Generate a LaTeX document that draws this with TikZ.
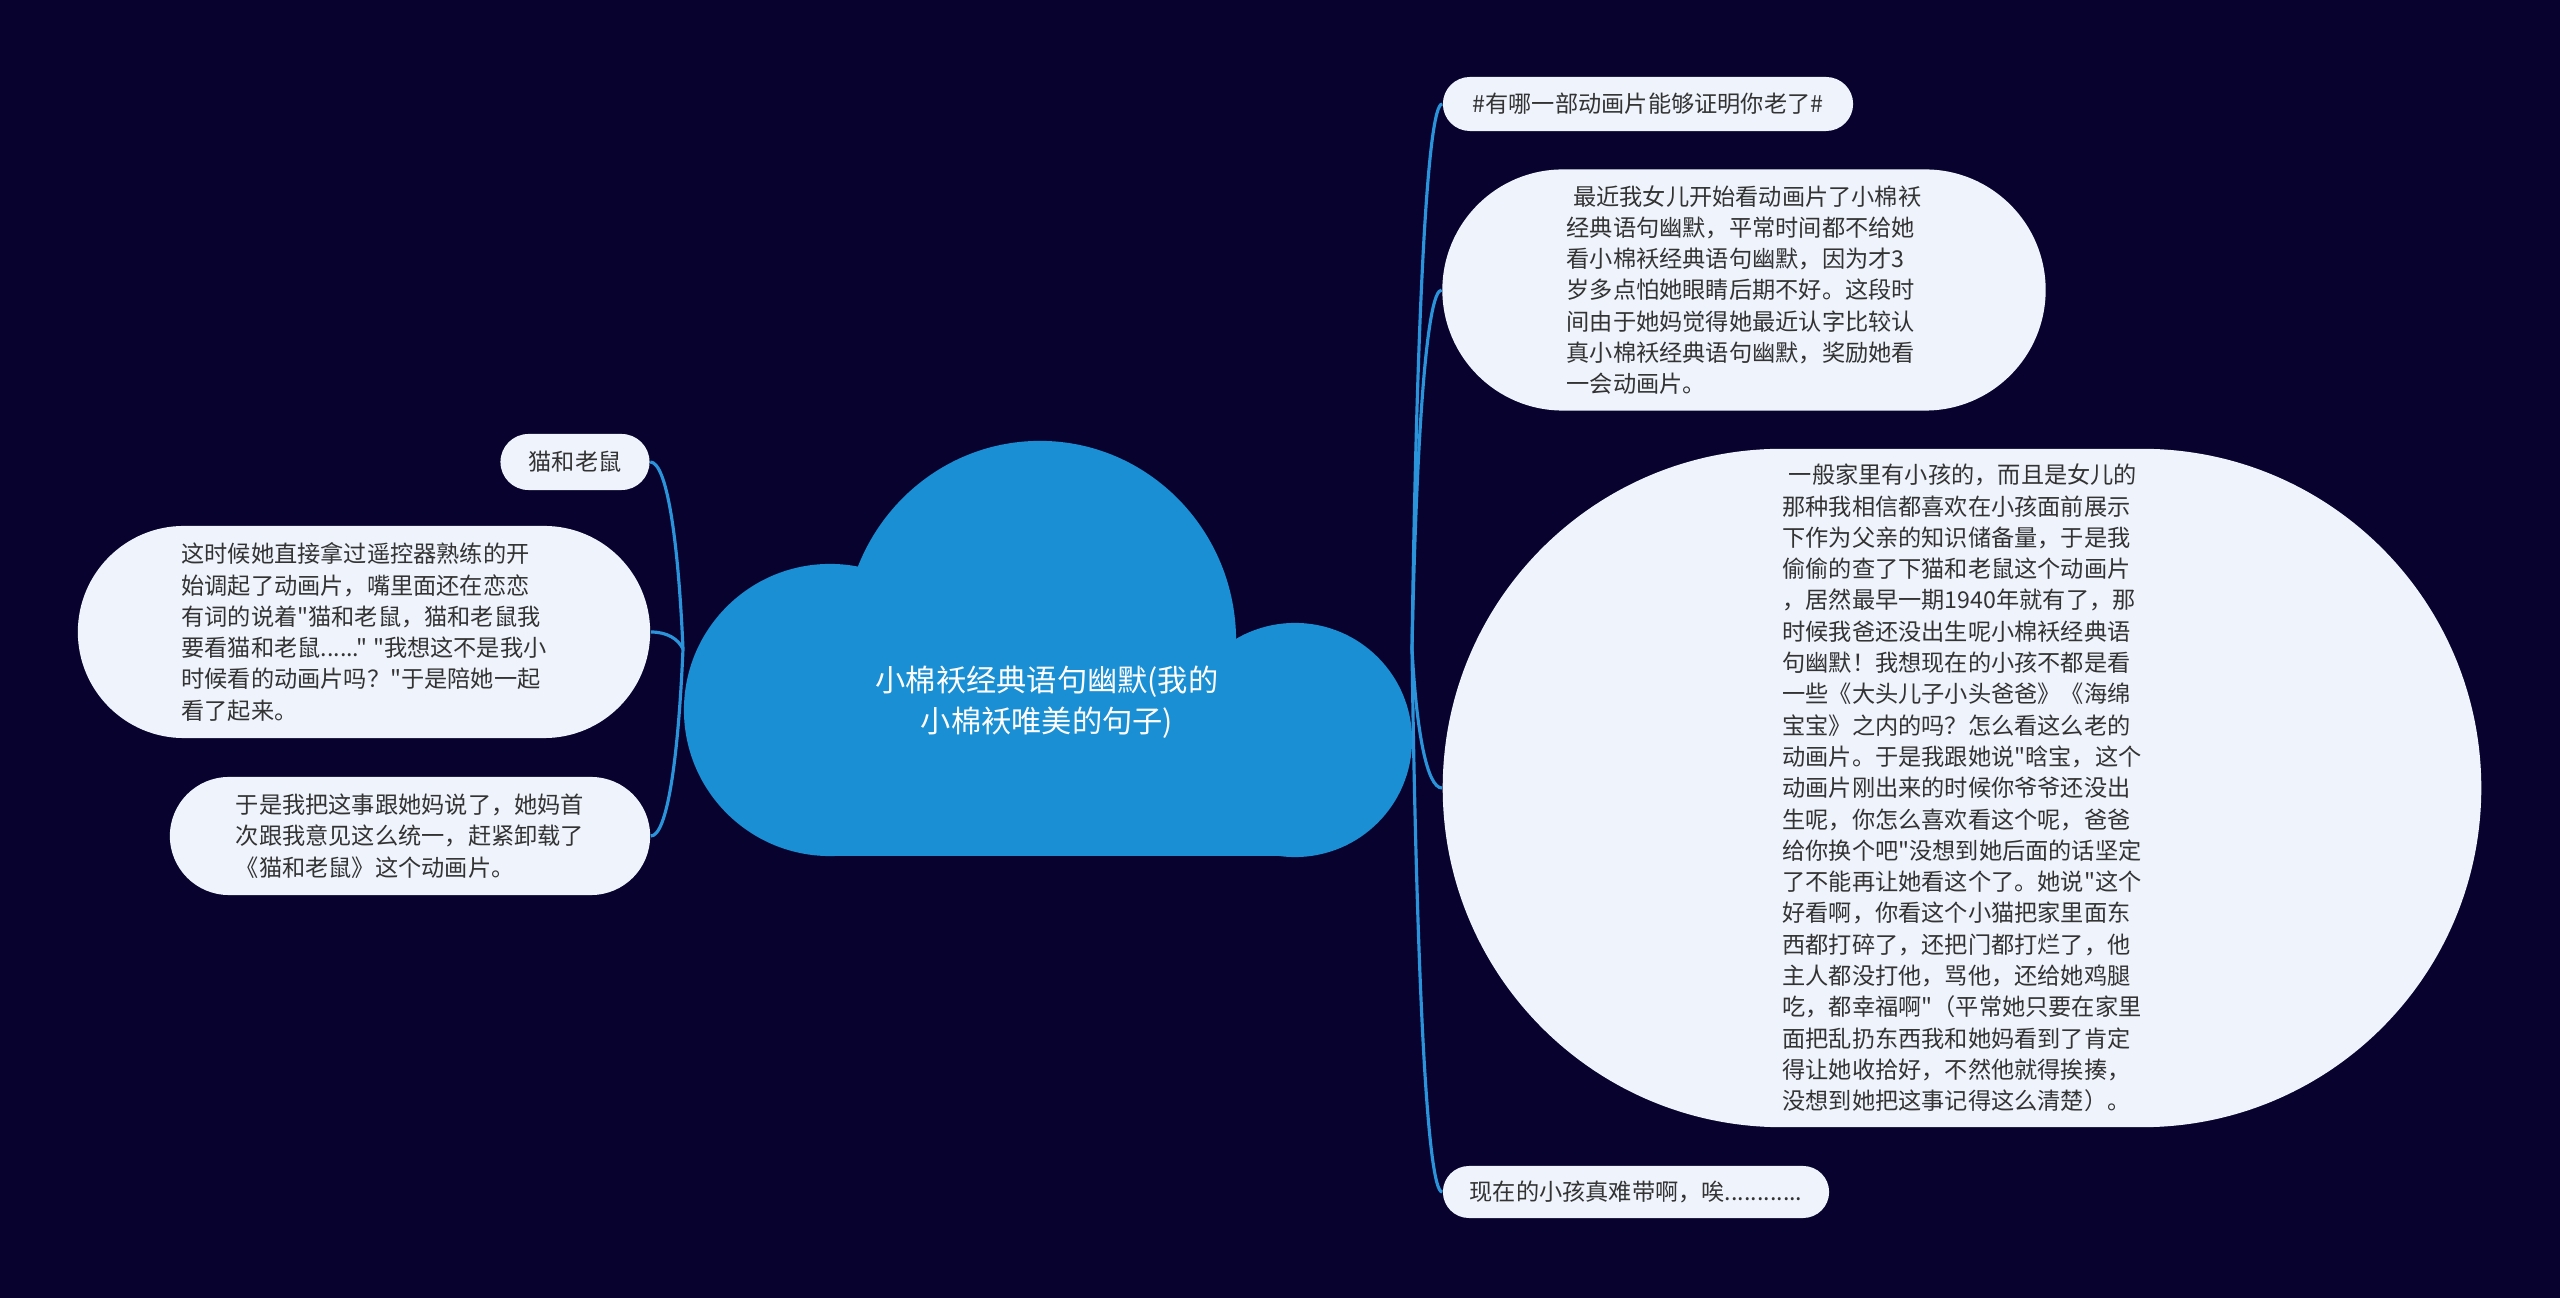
\documentclass[tikz,border=0pt]{standalone}
\usepackage{fontspec}
\setmainfont[Ligatures=TeXOff]{Noto Sans CJK SC}
\usetikzlibrary{shapes.misc,calc}

\definecolor{bgnavy}{HTML}{08032E}
\definecolor{cloudblue}{HTML}{1A8FD4}
\definecolor{branchblue}{HTML}{2A93DA}
\definecolor{topicfill}{HTML}{EEF3FC}
\definecolor{topictext}{HTML}{333333}

\tikzset{
  topic/.style={rounded rectangle, fill=topicfill, text=topictext, inner sep=0pt,
    align=left, font=\fontsize{6.6pt}{8.9pt}\selectfont},
  roottext/.style={text=white, align=center, font=\fontsize{8.6pt}{11.7pt}\selectfont},
  branch/.style={branchblue, line width=0.9pt},
}

% curved branch from a junction to a topic
\newcommand{\branch}[2]{%
  \draw[branch] let \p1=(#1), \p2=(#2) in
    (\p1) .. controls ({\x1+0.15*(\x2-\x1)},{\y1+0.6*(\y2-\y1)})
             and ({\x1+0.5*(\x2-\x1)},{\y2}) .. (\p2);}

\begin{document}
\begin{tikzpicture}[x=0.01cm, y=-0.01cm]

% background
\fill[bgnavy] (0,0) rectangle (2560,1298);
\useasboundingbox (0,0) rectangle (2560,1298);

% cloud
\fill[cloudblue] (1040,641) ellipse [x radius=1.96cm, y radius=2cm];
\fill[cloudblue] (830,710) circle [radius=1.46cm];
\fill[cloudblue] (1295,740) circle [radius=1.17cm];
\fill[cloudblue] (830,700) rectangle (1295,856);
\node[roottext] (root) at (1047,702) {小棉袄经典语句幽默(我的\\小棉袄唯美的句子)};
\coordinate (rootL) at (683,649);
\coordinate (rootR) at (1412,649);

% right side
\node[topic, minimum width=4.1cm, minimum height=0.54cm] (hashtag) at (1648,104)
  {\#有哪一部动画片能够证明你老了\#};
\node[topic, minimum width=6.03cm, minimum height=2.41cm] (daughter) at (1744,290)
  {\hspace{.28em}最近我女儿开始看动画片了小棉袄\\
   经典语句幽默，平常时间都不给她\\
   看小棉袄经典语句幽默，因为才3\\
   岁多点怕她眼睛后期不好。这段时\\
   间由于她妈觉得她最近认字比较认\\
   真小棉袄经典语句幽默，奖励她看\\
   一会动画片。};
\node[topic, minimum width=10.38cm, minimum height=6.78cm] (story) at (1962,788)
  {\hspace{.28em}一般家里有小孩的，而且是女儿的\\
   那种我相信都喜欢在小孩面前展示\\
   下作为父亲的知识储备量，于是我\\
   偷偷的查了下猫和老鼠这个动画片\\
   ，居然最早一期1940年就有了，那\\
   时候我爸还没出生呢小棉袄经典语\\
   句幽默！我想现在的小孩不都是看\\
   一些《大头儿子小头爸爸》《海绵\\
   宝宝》之内的吗？怎么看这么老的\\
   动画片。于是我跟她说"晗宝，这个\\
   动画片刚出来的时候你爷爷还没出\\
   生呢，你怎么喜欢看这个呢，爸爸\\
   给你换个吧"没想到她后面的话坚定\\
   了不能再让她看这个了。她说"这个\\
   好看啊，你看这个小猫把家里面东\\
   西都打碎了，还把门都打烂了，他\\
   主人都没打他，骂他，还给她鸡腿\\
   吃，都幸福啊"（平常她只要在家里\\
   面把乱扔东西我和她妈看到了肯定\\
   得让她收拾好，不然他就得挨揍，\\
   没想到她把这事记得这么清楚）。};
\node[topic, minimum width=3.86cm, minimum height=0.52cm] (sigh) at (1636,1192)
  {现在的小孩真难带啊，唉............};

% left side
\node[topic, minimum width=1.49cm, minimum height=0.56cm] (tomjerry) at (575,462)
  {猫和老鼠};
\node[topic, minimum width=5.72cm, minimum height=2.12cm] (remote) at (364,632)
  {这时候她直接拿过遥控器熟练的开\\
   始调起了动画片，嘴里面还在恋恋\\
   有词的说着"猫和老鼠，猫和老鼠我\\
   要看猫和老鼠......" "我想这不是我小\\
   时候看的动画片吗？"于是陪她一起\\
   看了起来。};
\node[topic, minimum width=4.8cm, minimum height=1.18cm] (uninstall) at (410,836)
  {于是我把这事跟她妈说了，她妈首\\
   次跟我意见这么统一，赶紧卸载了\\
   《猫和老鼠》这个动画片。};

% branches
\branch{rootR}{hashtag.west}
\branch{rootR}{daughter.west}
\branch{rootR}{story.west}
\branch{rootR}{sigh.west}
\branch{rootL}{tomjerry.east}
\branch{rootL}{remote.east}
\branch{rootL}{uninstall.east}

\end{tikzpicture}
\end{document}
